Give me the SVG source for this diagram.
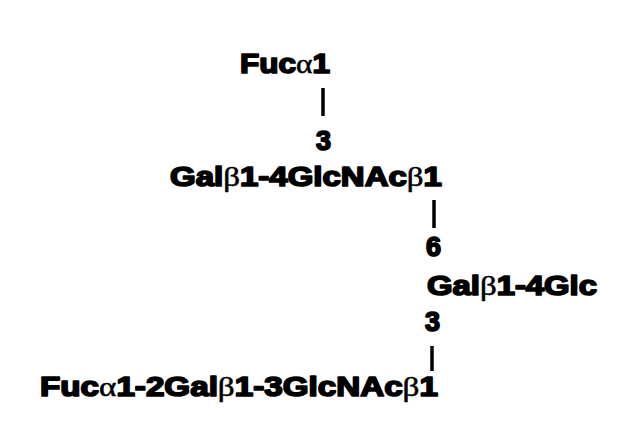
<svg xmlns="http://www.w3.org/2000/svg" width="642" height="425" viewBox="0 0 642 425">
<style>
.t{font-family:"Liberation Sans",Arial,sans-serif;font-weight:bold;font-size:27px;fill:#000;stroke:#000;stroke-width:1.7;stroke-linejoin:round}
.g{font-family:"Liberation Serif","Times New Roman",serif;font-weight:normal;stroke-width:0.5}
.bar{stroke:#000;stroke-width:3.5;fill:none}
</style>
<rect width="642" height="425" fill="#fff"/>
<g id="fuc-top"><text class="t" x="240" y="73" textLength="90" lengthAdjust="spacingAndGlyphs">Fuc<tspan class="g">α</tspan>1</text></g>
<g id="link-3a"><text class="t" x="316" y="150">3</text></g>
<g id="lacnac"><text class="t" x="170" y="186" textLength="272" lengthAdjust="spacingAndGlyphs">Gal<tspan class="g">β</tspan>1-4GlcNAc<tspan class="g">β</tspan>1</text></g>
<g id="link-6"><text class="t" x="426" y="256">6</text></g>
<g id="lactose"><text class="t" x="427" y="295" textLength="170" lengthAdjust="spacingAndGlyphs">Gal<tspan class="g">β</tspan>1-4Glc</text></g>
<g id="link-3b"><text class="t" x="425" y="331">3</text></g>
<g id="bottom"><text class="t" x="40" y="396" textLength="398" lengthAdjust="spacingAndGlyphs">Fuc<tspan class="g">α</tspan>1-2Gal<tspan class="g">β</tspan>1-3GlcNAc<tspan class="g">β</tspan>1</text></g>
<g id="connectors">
<line class="bar" x1="323" y1="88" x2="323" y2="116"/>
<line class="bar" x1="434" y1="200" x2="434" y2="228"/>
<line class="bar" x1="432" y1="346" x2="432" y2="371"/>
</g>
</svg>
